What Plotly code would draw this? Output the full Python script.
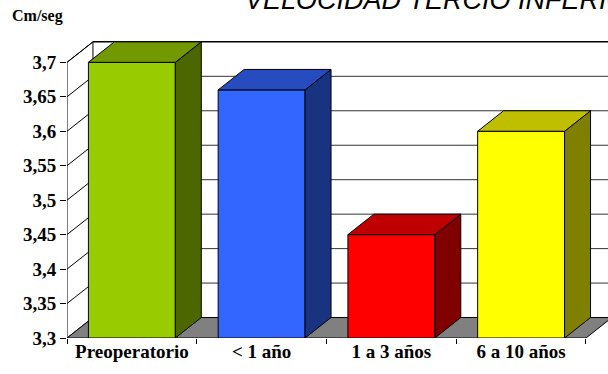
import plotly.graph_objects as go

# Data
categories = ["Preoperatorio", "< 1 año", "1 a 3 años", "6 a 10 años"]
velocidad = [3.70, 3.66, 3.45, 3.60]
tick_values = [3.3, 3.35, 3.4, 3.45, 3.5, 3.55, 3.6, 3.65, 3.7]
tick_labels = ["3,3", "3,35", "3,4", "3,45", "3,5", "3,55", "3,6", "3,65", "3,7"]

front_colors = ["#99CC00", "#3366FF", "#FF0000", "#FFFF00"]
top_colors = ["#739900", "#264CBF", "#BF0000", "#BFBF00"]
side_colors = ["#4C6600", "#1A3380", "#800000", "#808000"]

# 3D box geometry (in axis units)
Y_MIN, Y_MAX = 3.3, 3.7
DEPTH_X = 0.2      # depth shift along the category axis
DEPTH_Y = 0.0297   # depth shift along the value axis
BAR_W = 0.67
X_LEFT = -0.5
X_RIGHT = len(categories) - 0.5
X_RANGE_MAX = 3.6696
Y_RANGE_MAX = 3.7353

xs = list(range(len(categories)))

fig = go.Figure()

def poly(points):
    return "M " + " L ".join(f"{x},{y}" for x, y in points) + " Z"

shapes = []
# back wall
shapes.append(dict(type="path", xref="x", yref="y", layer="below",
                   path=poly([(X_LEFT + DEPTH_X, Y_MIN + DEPTH_Y),
                              (X_RIGHT + DEPTH_X + 0.2, Y_MIN + DEPTH_Y),
                              (X_RIGHT + DEPTH_X + 0.2, Y_MAX + DEPTH_Y),
                              (X_LEFT + DEPTH_X, Y_MAX + DEPTH_Y)]),
                   fillcolor="white", line=dict(width=0)))
# left side wall
shapes.append(dict(type="path", xref="x", yref="y", layer="below",
                   path=poly([(X_LEFT, Y_MIN), (X_LEFT, Y_MAX),
                              (X_LEFT + DEPTH_X, Y_MAX + DEPTH_Y),
                              (X_LEFT + DEPTH_X, Y_MIN + DEPTH_Y)]),
                   fillcolor="white", line=dict(color="black", width=1)))
# gridlines on back wall and side wall
for v in tick_values[1:]:
    shapes.append(dict(type="line", xref="x", yref="y", layer="below",
                       x0=X_LEFT + DEPTH_X, x1=X_RIGHT + DEPTH_X + 0.2,
                       y0=v + DEPTH_Y, y1=v + DEPTH_Y,
                       line=dict(color="#333333" if v < Y_MAX else "black",
                                 width=1.5 if v == Y_MAX else 1)))
    shapes.append(dict(type="line", xref="x", yref="y", layer="below",
                       x0=X_LEFT, x1=X_LEFT + DEPTH_X,
                       y0=v, y1=v + DEPTH_Y,
                       line=dict(color="black", width=1)))
# floor
shapes.append(dict(type="path", xref="x", yref="y", layer="below",
                   path=poly([(X_LEFT, Y_MIN), (X_RIGHT, Y_MIN),
                              (X_RIGHT + DEPTH_X, Y_MIN + DEPTH_Y),
                              (X_LEFT + DEPTH_X, Y_MIN + DEPTH_Y)]),
                   fillcolor="#808080", line=dict(color="black", width=1)))

# front faces of the columns
fig.add_trace(go.Bar(
    x=xs, y=[v - Y_MIN for v in velocidad], base=Y_MIN, width=BAR_W,
    marker=dict(color=front_colors, line=dict(color="black", width=1)),
    hoverinfo="skip", showlegend=False,
))

# top and side faces of the columns
hw = BAR_W / 2
for x, v, tc, sc in zip(xs, velocidad, top_colors, side_colors):
    side = [(x + hw, Y_MIN), (x + hw, v), (x + hw + DEPTH_X, v + DEPTH_Y),
            (x + hw + DEPTH_X, Y_MIN + DEPTH_Y), (x + hw, Y_MIN)]
    top = [(x - hw, v), (x + hw, v), (x + hw + DEPTH_X, v + DEPTH_Y),
           (x - hw + DEPTH_X, v + DEPTH_Y), (x - hw, v)]
    for pts, col in ((side, sc), (top, tc)):
        fig.add_trace(go.Scatter(
            x=[p[0] for p in pts], y=[p[1] for p in pts],
            mode="lines", fill="toself", fillcolor=col,
            line=dict(color="black", width=1),
            hoverinfo="skip", showlegend=False,
        ))

serif_bold = dict(family="Liberation Serif, Times New Roman, serif", size=19,
                  color="black", weight="bold")

fig.update_layout(
    width=608, height=374,
    margin=dict(l=67, r=0, t=38, b=36),
    paper_bgcolor="white", plot_bgcolor="white",
    shapes=shapes,
    xaxis=dict(range=[X_LEFT, X_RANGE_MAX], tickvals=xs, ticktext=categories,
               showgrid=False, zeroline=False, showline=False, ticks="",
               tickfont=serif_bold,
               minor=dict(tickvals=[i - 0.5 for i in range(len(categories) + 1)],
                          ticks="outside", ticklen=5, tickcolor="black", tickwidth=1)),
    yaxis=dict(range=[Y_MIN, Y_RANGE_MAX], tickvals=tick_values, ticktext=tick_labels,
               showgrid=False, zeroline=False, showline=False,
               ticks="outside", ticklen=6, tickcolor="black", tickwidth=1,
               tickfont=serif_bold),
    annotations=[
        dict(text="VELOCIDAD TERCIO INFERIOR", xref="paper", yref="paper",
             x=(243 - 67) / 541, y=1.07, xanchor="left", yanchor="bottom",
             showarrow=False,
             font=dict(family="Liberation Sans, Arial, sans-serif", size=27,
                       color="black", style="italic")),
        dict(text="Cm/seg", xref="paper", yref="paper",
             x=(10 - 67) / 541, y=1.0733, xanchor="left", yanchor="middle",
             showarrow=False,
             font=dict(family="Liberation Serif, Times New Roman, serif", size=16,
                       color="black", weight="bold")),
    ],
)

fig.write_html("out.html")
